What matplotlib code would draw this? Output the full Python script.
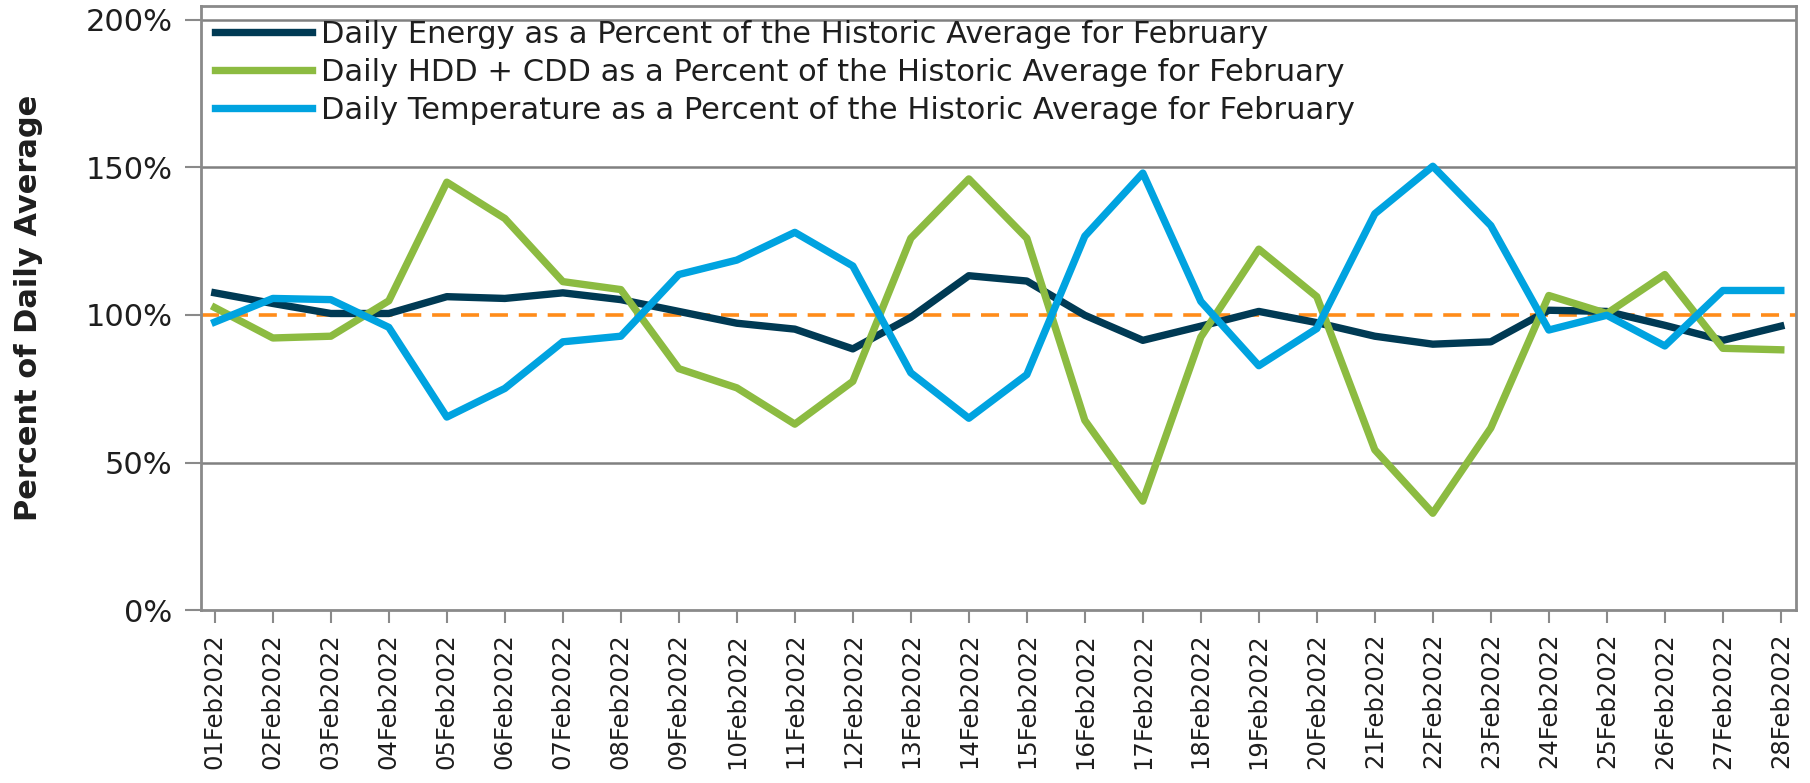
import matplotlib.pyplot as plt
import numpy as np

# dates on the x axis
days = [f"{d:02d}Feb2022" for d in range(1, 29)]

# daily values, percent of the historic February average
energy = [107.5, 103.9, 100.5, 100.5, 106.2, 105.6, 107.5, 105.2, 101.2, 97.2,
          95.2, 88.5, 99.2, 113.3, 111.5, 99.9, 91.4, 96.2, 101.2, 97.4,
          92.8, 90.1, 90.9, 101.6, 101.2, 96.5, 91.4, 96.2]
hdd_cdd = [102.5, 92.2, 92.8, 104.8, 145.0, 132.7, 111.3, 108.6, 81.8, 75.3,
           63.0, 77.5, 126.0, 146.1, 126.0, 64.3, 36.9, 92.5, 122.3, 106.2,
           54.3, 32.8, 61.7, 106.6, 100.5, 113.7, 88.7, 88.2]
temperature = [97.6, 105.6, 105.2, 95.8, 65.4, 75.1, 90.9, 92.8, 113.7, 118.6,
               128.0, 116.6, 80.4, 65.0, 79.8, 126.7, 148.1, 104.6, 82.8, 95.4,
               134.3, 150.4, 130.3, 94.9, 99.9, 89.5, 108.3, 108.3]

labels = ["Daily Energy as a Percent of the Historic Average for February",
          "Daily HDD + CDD as a Percent of the Historic Average for February",
          "Daily Temperature as a Percent of the Historic Average for February"]
colors = ["#003a54", "#8cbb41", "#00a3e0"]

fig = plt.figure(figsize=(18.1, 7.83), dpi=100)
ax = fig.add_axes([0.111, 0.2209, 0.8812, 0.7714])

x = np.arange(len(days))
ax.axhline(100, color="#ff8c1a", lw=2.6, dashes=(5, 3), zorder=2)
for vals, lab, col in zip([energy, hdd_cdd, temperature], labels, colors):
    ax.plot(x, vals, color=col, lw=5.3, label=lab, zorder=3)

ax.set_xlim(-0.24, 27.26)
ax.set_ylim(0, 204.7)
ax.set_yticks([0, 50, 100, 150, 200])
ax.set_yticklabels(["0%", "50%", "100%", "150%", "200%"])
ax.set_xticks(x)
ax.set_xticklabels(days, rotation=90)

ax.yaxis.grid(True, color="#808080", lw=1.8)
ax.get_ygridlines()[2].set_visible(False)
ax.get_ygridlines()[0].set_visible(False)
ax.set_axisbelow(True)

for s in ax.spines.values():
    s.set_color("#8a8a8a")
    s.set_linewidth(2)

ax.tick_params(axis="y", labelsize=22, colors="#8a8a8a", labelcolor="#1e1e1e",
               length=11.5, width=1.5, pad=9)
ax.tick_params(axis="x", labelsize=17.5, colors="#8a8a8a", labelcolor="#1e1e1e",
               length=9.5, width=1.5, pad=7)

ax.set_ylabel("Percent of Daily Average", fontsize=22, fontweight="bold",
              color="#1e1e1e")
ax.yaxis.set_label_coords(-0.099, 0.5)

leg = ax.legend(loc="upper left", frameon=False, fontsize=22, handlelength=3.2,
                handletextpad=0.27, labelspacing=0.3, borderaxespad=0.15,
                borderpad=0.3)
for t in leg.get_texts():
    t.set_color("#1e1e1e")

fig.savefig("out.png", dpi=100)
